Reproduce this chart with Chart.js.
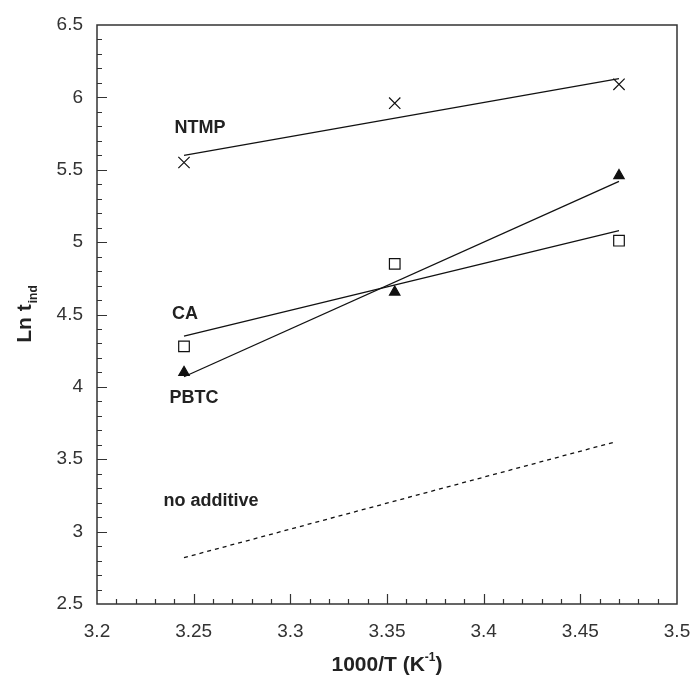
<!DOCTYPE html>
<html>
<head>
<meta charset="utf-8">
<script src="https://cdn.jsdelivr.net/npm/chart.js@4.4.1/dist/chart.umd.min.js"></script>
<style>
  html, body { margin: 0; padding: 0; background: #fff; }
  #wrap { width: 694px; height: 680px; }
</style>
</head>
<body>
<div id="wrap"><canvas id="chart" width="694" height="680"></canvas></div>
<script>
// measured points (1000/T vs Ln t_ind)
const tempX = [3.245, 3.354, 3.47];
const ntmpLn = [5.55, 5.96, 6.09];
const caLn = [4.28, 4.85, 5.01];
const pbtcLn = [4.10, 4.655, 5.46];

// fitted lines, end points
const fitX = [3.245, 3.47];
const ntmpFit = [5.60, 6.13];
const caFit = [4.35, 5.08];
const pbtcFit = [4.07, 5.42];
const noAdditiveX = [3.245, 3.468];
const noAdditiveFit = [2.82, 3.62];

// series labels inside the plot
const labelNames = ['NTMP', 'CA', 'PBTC', 'no additive'];
const labelX = [3.2533, 3.2455, 3.2502, 3.259];
const labelY = [5.79, 4.50, 3.92, 3.21];

// axis ticks
const xMin = 3.2, xMax = 3.5, xStep = 0.05, xMinor = 0.01;
const yMin = 2.5, yMax = 6.5, yStep = 0.5, yMinor = 0.1;

const FONT = "'Liberation Sans', Arial, sans-serif";
const INK = '#222';

const pts = (xs, ys) => xs.map((x, i) => ({ x, y: ys[i] }));

function lineSet(label, xs, ys, dash) {
  return {
    type: 'line',
    label,
    data: pts(xs, ys),
    borderColor: '#111',
    borderWidth: 1.3,
    borderDash: dash || [],
    pointRadius: 0,
    fill: false,
  };
}

function markerSet(label, ys, style, radius, fillColor) {
  return {
    type: 'scatter',
    label,
    data: pts(tempX, ys),
    pointStyle: style,
    pointRadius: radius,
    pointHoverRadius: radius,
    pointBorderWidth: 1.2,
    borderColor: '#111',
    backgroundColor: fillColor,
    showLine: false,
  };
}

// box round the plot, inward ticks, labels and axis titles
const framePlugin = {
  id: 'frame',
  afterDatasetsDraw(chart) {
    const { ctx, chartArea: a, scales: { x, y } } = chart;
    ctx.save();
    ctx.strokeStyle = '#333';
    ctx.lineWidth = 1.5;
    ctx.strokeRect(a.left, a.top, a.right - a.left, a.bottom - a.top);

    ctx.lineWidth = 1.2;
    ctx.beginPath();
    const nx = Math.round((xMax - xMin) / xMinor);
    for (let i = 1; i < nx; i++) {
      const v = xMin + i * xMinor;
      const px = Math.round(x.getPixelForValue(v)) + 0.5;
      const len = i % 5 === 0 ? 10 : 5;
      ctx.moveTo(px, a.bottom);
      ctx.lineTo(px, a.bottom - len);
    }
    const ny = Math.round((yMax - yMin) / yMinor);
    for (let i = 1; i < ny; i++) {
      const v = yMin + i * yMinor;
      const py = Math.round(y.getPixelForValue(v)) + 0.5;
      const len = i % 5 === 0 ? 10 : 5;
      ctx.moveTo(a.left, py);
      ctx.lineTo(a.left + len, py);
    }
    ctx.stroke();

    ctx.fillStyle = INK;
    ctx.font = `bold 18px ${FONT}`;
    ctx.textAlign = 'center';
    ctx.textBaseline = 'middle';
    labelNames.forEach((name, i) => {
      ctx.fillText(name, x.getPixelForValue(labelX[i]), y.getPixelForValue(labelY[i]));
    });

    // x title: 1000/T (K^-1)
    const cx = (a.left + a.right) / 2;
    const main = '1000/T (K';
    const sup = '-1';
    const close = ')';
    ctx.font = `bold 21px ${FONT}`;
    const wMain = ctx.measureText(main).width;
    const wClose = ctx.measureText(close).width;
    ctx.font = `bold 12px ${FONT}`;
    const wSup = ctx.measureText(sup).width;
    let sx = cx - (wMain + wSup + wClose) / 2;
    const base = 671;
    ctx.textAlign = 'left';
    ctx.textBaseline = 'alphabetic';
    ctx.font = `bold 21px ${FONT}`;
    ctx.fillText(main, sx, base);
    sx += wMain;
    ctx.font = `bold 12px ${FONT}`;
    ctx.fillText(sup, sx, base - 10);
    sx += wSup;
    ctx.font = `bold 21px ${FONT}`;
    ctx.fillText(close, sx, base);

    // y title: Ln t_ind, rotated
    const cy = (a.top + a.bottom) / 2;
    const ymain = 'Ln t';
    const ysub = 'ind';
    ctx.font = `bold 21px ${FONT}`;
    const wy = ctx.measureText(ymain).width;
    ctx.font = `bold 12px ${FONT}`;
    const wsub = ctx.measureText(ysub).width;
    ctx.translate(31, cy);
    ctx.rotate(-Math.PI / 2);
    let ty = -(wy + wsub) / 2;
    ctx.font = `bold 21px ${FONT}`;
    ctx.fillText(ymain, ty, 0);
    ty += wy + 1;
    ctx.font = `bold 12px ${FONT}`;
    ctx.fillText(ysub, ty, 6);
    ctx.restore();
  },
};

const trim = (v) => String(Number(v.toFixed(2)));

new Chart(document.getElementById('chart'), {
  data: {
    datasets: [
      lineSet('NTMP fit', fitX, ntmpFit),
      lineSet('CA fit', fitX, caFit),
      lineSet('PBTC fit', fitX, pbtcFit),
      lineSet('no additive', noAdditiveX, noAdditiveFit, [4, 4]),
      markerSet('NTMP', ntmpLn, 'crossRot', 8, '#111'),
      markerSet('CA', caLn, 'rect', 7.5, '#fff'),
      markerSet('PBTC', pbtcLn, 'triangle', 6, '#111'),
    ],
  },
  options: {
    responsive: false,
    animation: false,
    events: [],
    layout: { padding: { left: 0, top: 25, right: 17, bottom: 0 } },
    plugins: {
      legend: { display: false },
      tooltip: { enabled: false },
    },
    scales: {
      x: {
        type: 'linear',
        min: xMin,
        max: xMax,
        afterFit(scale) {
          scale.height = 76;
          scale.paddingLeft = 0;
          scale.paddingRight = 0;
        },
        afterBuildTicks(scale) {
          const ticks = [];
          for (let i = 0; i <= Math.round((xMax - xMin) / xStep); i++) ticks.push({ value: xMin + i * xStep });
          scale.ticks = ticks;
        },
        grid: { display: false, drawTicks: false },
        border: { display: false },
        ticks: {
          padding: 16,
          maxRotation: 0,
          autoSkip: false,
          color: '#333',
          font: { family: FONT, size: 19 },
          callback: (v) => trim(v),
        },
      },
      y: {
        type: 'linear',
        min: yMin,
        max: yMax,
        afterFit(scale) {
          scale.width = 97;
          scale.paddingTop = 0;
          scale.paddingBottom = 0;
        },
        afterBuildTicks(scale) {
          const ticks = [];
          for (let i = 0; i <= Math.round((yMax - yMin) / yStep); i++) ticks.push({ value: yMin + i * yStep });
          scale.ticks = ticks;
        },
        grid: { display: false, drawTicks: false },
        border: { display: false },
        ticks: {
          padding: 14,
          autoSkip: false,
          color: '#333',
          font: { family: FONT, size: 19 },
          callback: (v) => trim(v),
        },
      },
    },
  },
  plugins: [framePlugin],
});
</script>
</body>
</html>
